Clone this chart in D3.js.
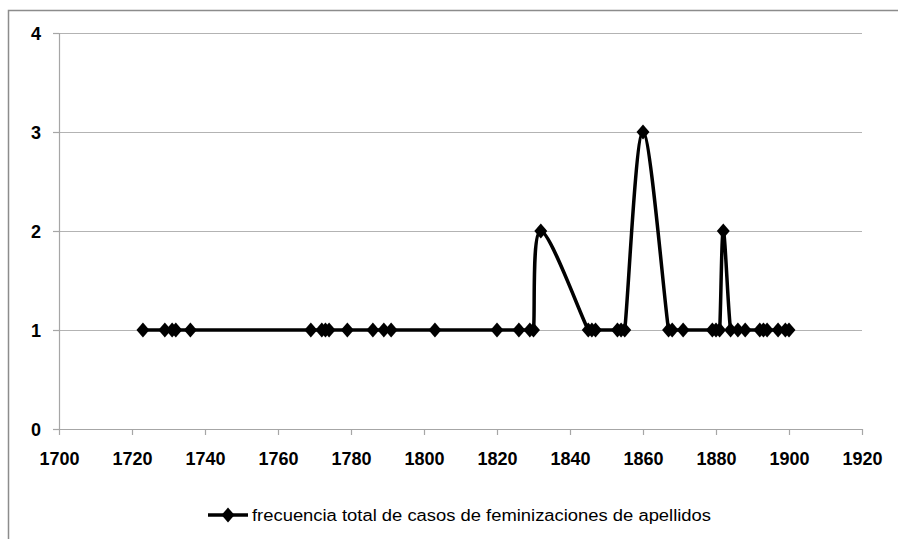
<!DOCTYPE html>
<html>
<head>
<meta charset="utf-8">
<script src="https://cdn.jsdelivr.net/npm/d3@7"></script>
<style>
  body { margin: 0; background: #fff; }
  svg { display: block; }
  .tick text { font-family: 'Liberation Sans', Arial, sans-serif; font-weight: bold; font-size: 18px; fill: #000; }
  .legend-text { font-family: 'Liberation Sans', Arial, sans-serif; font-size: 16px; fill: #000; }
</style>
</head>
<body>
<svg width="898" height="539"></svg>
<script>
// years and counts
const years = [1723, 1729, 1731, 1732, 1736, 1769, 1772, 1773, 1774, 1779, 1786, 1789, 1791, 1803,
  1820, 1826, 1829, 1830, 1832, 1845, 1846, 1847, 1853, 1854, 1855, 1860, 1867, 1868, 1871,
  1879, 1880, 1881, 1882, 1884, 1886, 1888, 1892, 1893, 1894, 1897, 1899, 1900];
const counts = [1, 1, 1, 1, 1, 1, 1, 1, 1, 1, 1, 1, 1, 1,
  1, 1, 1, 1, 2, 1, 1, 1, 1, 1, 1, 3, 1, 1, 1,
  1, 1, 1, 2, 1, 1, 1, 1, 1, 1, 1, 1, 1];
const xTicks = [1700, 1720, 1740, 1760, 1780, 1800, 1820, 1840, 1860, 1880, 1900, 1920];
const yTicks = [0, 1, 2, 3, 4];
const seriesName = 'frecuencia total de casos de feminizaciones de apellidos';

const data = years.map((y, i) => ({ year: y, value: counts[i] }));

const svg = d3.select('svg');
const margin = { left: 59, top: 33, right: 36, bottom: 110 };
const width = +svg.attr('width');
const height = +svg.attr('height');
const innerWidth = width - margin.left - margin.right;
const innerHeight = height - margin.top - margin.bottom;

// outer frame (only top and left edges are visible)
svg.append('path')
  .attr('d', `M8.5,${height}V10.5H${width}`)
  .attr('fill', 'none')
  .attr('stroke', '#8c8c8c')
  .attr('stroke-width', 1.5);

const xScale = d3.scaleLinear().domain([1700, 1920]).range([0, innerWidth]);
const yScale = d3.scaleLinear().domain([0, 4]).range([innerHeight, 0]);

const g = svg.append('g').attr('transform', `translate(${margin.left},${margin.top})`);

// gridlines
g.append('g')
  .selectAll('line').data(yTicks.filter(d => d > 0))
  .enter().append('line')
    .attr('x1', 0).attr('x2', innerWidth)
    .attr('y1', d => yScale(d) + 0.5).attr('y2', d => yScale(d) + 0.5)
    .attr('stroke', '#b3b3b3').attr('stroke-width', 1.2);

const yAxis = d3.axisLeft(yScale).tickValues(yTicks).tickSize(6).tickPadding(12).tickFormat(d3.format('d'));
const yAxisG = g.append('g').call(yAxis);
yAxisG.selectAll('line, .domain').attr('stroke', '#a6a6a6').attr('stroke-width', 1.2);
yAxisG.select('.domain').attr('d', `M0.5,0V${innerHeight}`);
yAxisG.selectAll('text').attr('dy', '0.35em');

const xAxis = d3.axisBottom(xScale).tickValues(xTicks).tickSize(6).tickPadding(17).tickFormat(d3.format('d'));
const xAxisG = g.append('g').attr('transform', `translate(0,${innerHeight})`).call(xAxis);
xAxisG.selectAll('line, .domain').attr('stroke', '#a6a6a6').attr('stroke-width', 1.2);
xAxisG.select('.domain').attr('d', `M0,0.5H${innerWidth}`);

// smoothed line: catmull-rom style controls, y of controls kept within each segment
const smooth = pts => {
  const p = d3.path();
  p.moveTo(pts[0][0], pts[0][1]);
  for (let i = 0; i < pts.length - 1; i++) {
    const p0 = pts[i - 1] || pts[i];
    const p1 = pts[i];
    const p2 = pts[i + 1];
    const p3 = pts[i + 2] || pts[i + 1];
    const lo = Math.min(p1[1], p2[1]);
    const hi = Math.max(p1[1], p2[1]);
    const clamp = v => Math.max(lo, Math.min(hi, v));
    const c1x = p1[0] + (p2[0] - p0[0]) / 6;
    const c1y = clamp(p1[1] + (p2[1] - p0[1]) / 6);
    const c2x = p2[0] - (p3[0] - p1[0]) / 6;
    const c2y = clamp(p2[1] - (p3[1] - p1[1]) / 6);
    p.bezierCurveTo(c1x, c1y, c2x, c2y, p2[0], p2[1]);
  }
  return p.toString();
};

g.append('path')
  .attr('d', smooth(data.map(d => [xScale(d.year), yScale(d.value)])))
  .attr('fill', 'none')
  .attr('stroke', '#000')
  .attr('stroke-width', 3.5)
  .attr('stroke-linejoin', 'round');

const diamond = d3.symbol().type(d3.symbolSquare).size(84);
g.selectAll('.marker').data(data)
  .enter().append('path')
    .attr('class', 'marker')
    .attr('d', diamond)
    .attr('transform', d => `translate(${xScale(d.year)},${yScale(d.value)}) scale(1,1.15) rotate(45)`)
    .attr('fill', '#000');

// legend
const lg = svg.append('g').attr('transform', 'translate(208,515)');
lg.append('line').attr('x1', 0).attr('x2', 40).attr('y1', 0).attr('y2', 0)
  .attr('stroke', '#000').attr('stroke-width', 3.5);
lg.append('path').attr('d', diamond).attr('transform', 'translate(20,0) scale(1,1.15) rotate(45)').attr('fill', '#000');
lg.append('text')
  .attr('class', 'legend-text')
  .attr('x', 44).attr('y', 0).attr('dy', '0.35em')
  .attr('textLength', 459).attr('lengthAdjust', 'spacingAndGlyphs')
  .text(seriesName);
</script>
</body>
</html>
